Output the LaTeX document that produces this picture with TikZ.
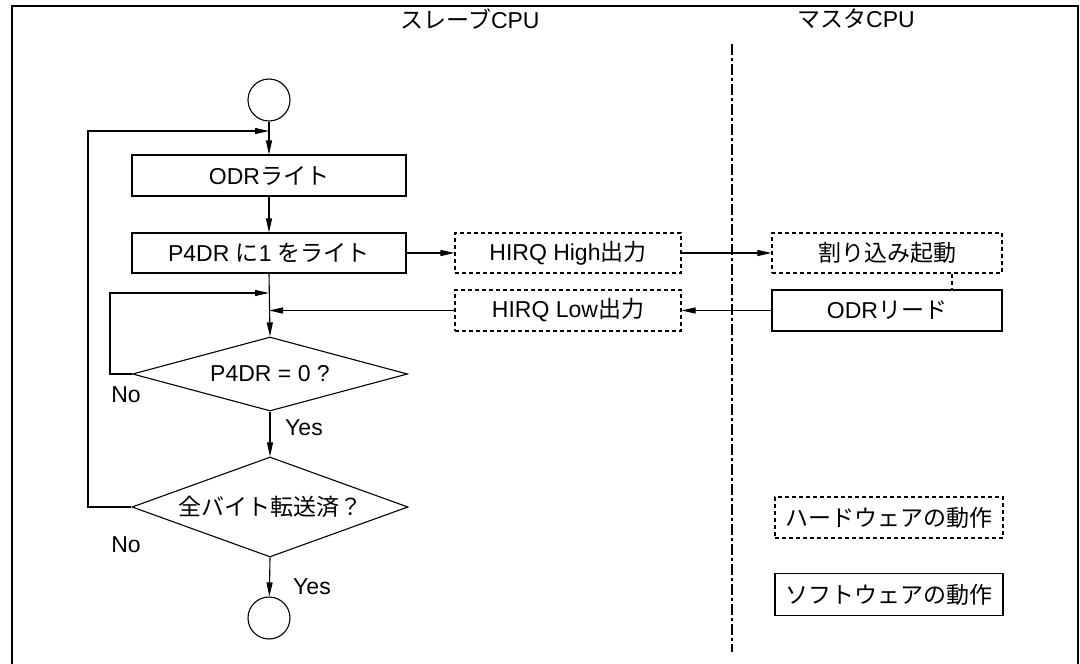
\documentclass[tikz,border=0pt]{standalone}
\usepackage{fontspec}
\setmainfont{Liberation Sans}
\newfontfamily\jp{Noto Sans CJK JP}
\usetikzlibrary{arrows.meta,shapes.geometric}
\begin{document}
\begin{tikzpicture}[x=1pt,y=-1pt, line width=1.1pt,
  >={Triangle[length=14pt,width=6pt]},
  txt/.style={font=\fontsize{23}{26}\selectfont, inner sep=0pt},
  box/.style={txt, draw, minimum height=41pt},
  hwbox/.style={box, dash pattern=on 4pt off 3pt},
  term/.style={draw, circle, minimum size=42pt, inner sep=0pt},
  dec/.style={txt, draw, diamond, aspect=3},
]
\useasboundingbox (0,0) rectangle (1080,664);
% frame
\draw[line width=2pt] (12,664) -- (12,6) -- (1078,6) -- (1078,664);
% lane separator
\draw[dash pattern=on 11pt off 3pt on 3pt off 3pt] (732,44) -- (732,652);
% headers
\node[txt] (hs) at (470,19) {{\jp スレーブ}CPU};
\node[txt] (hm) at (856,19) {{\jp マスタ}CPU};
% flow
\node[term] (start) at (269,100) {};
\node[box, minimum width=274pt] (odr) at (269,175.5) {ODR{\jp ライト}};
\node[box, minimum width=274pt, minimum height=40pt] (p4) at (269,253) {P4DR {\jp に}1 {\jp をライト}};
\node[hwbox, minimum width=226pt, minimum height=40pt] (hh) at (568,253) {HIRQ High{\jp 出力}};
\node[hwbox, minimum width=230pt, minimum height=40pt] (wari) at (887,253) {\jp 割り込み起動};
\node[box, minimum width=230pt] (odrr) at (887,310.5) {ODR{\jp リード}};
\node[hwbox, minimum width=226pt] (hl) at (568,310.5) {HIRQ Low{\jp 出力}};
\node[dec, minimum width=275pt, minimum height=74pt] (d1) at (270,374) {P4DR = 0 ?};
\node[dec, minimum width=276pt, minimum height=100pt] (d2) at (270,507) {\jp 全バイト転送済？};
\node[term] (end) at (269,618) {};
% legend
\node[hwbox, minimum width=228pt] (lhw) at (889,517.5) {\jp ハードウェアの動作};
\node[box, minimum width=228pt, minimum height=42pt] (lsw) at (889,594.5) {\jp ソフトウェアの動作};
% labels
\node[txt] (no1) at (126,395) {No};
\node[txt] (yes1) at (304,428) {Yes};
\node[txt] (no2) at (126,545) {No};
\node[txt] (yes2) at (312,587) {Yes};
% helper coordinates
\coordinate (l1) at (110,293);
\coordinate (m1) at (269,293);
\coordinate (l2) at (88,131);
\coordinate (m2) at (269,131);
\coordinate (m3) at (269,310.5);
% connectors
\draw[->] (start) -- (odr);
\draw[->] (odr) -- (p4);
\draw[->] (p4) -- (hh);
\draw[->] (hh) -- (wari);
\draw[dash pattern=on 4pt off 3pt] ([xshift=65pt]wari.south) -- ([xshift=65pt]odrr.north);
\draw[->] (odrr) -- (hl);
\draw[->] (hl.west) -- (m3);
\draw[->] (p4.south) -- (d1.north);
\draw[->] (d1.west) -| (l1) -- (m1);
\draw[->] (d1.south) -- (d2.north);
\draw[->] (d2.west) -| (l2) -- (m2);
\draw[->] (d2.south) -- (end);
\end{tikzpicture}
\end{document}
